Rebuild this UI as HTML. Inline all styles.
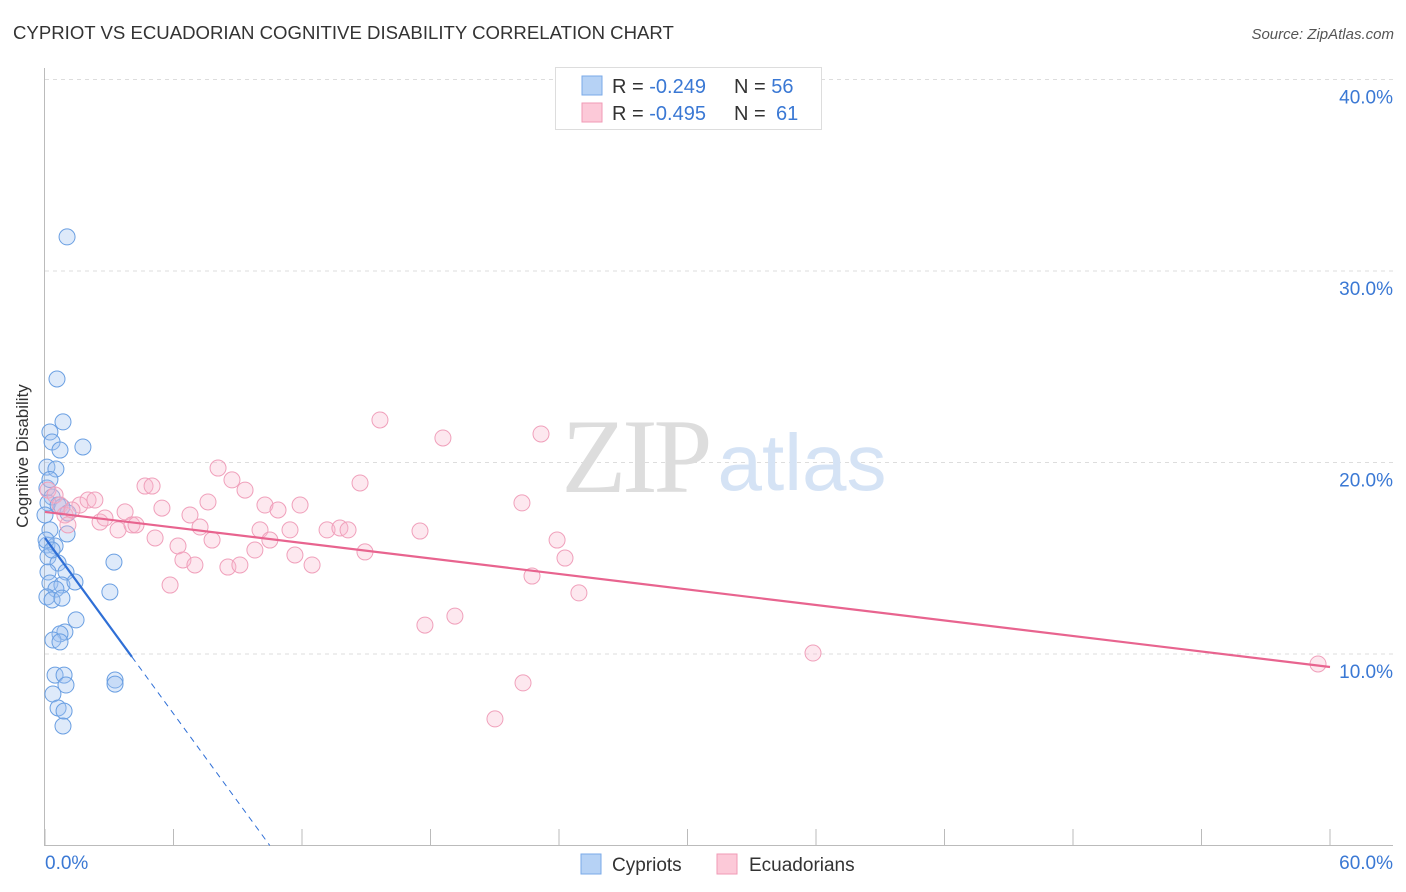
<!DOCTYPE html>
<html><head><meta charset="utf-8"><style>
body{margin:0;background:#fff;font-family:"Liberation Sans",sans-serif;}
svg{display:block}
</style></head><body>
<svg id="chart" width="1406" height="892" xmlns="http://www.w3.org/2000/svg">
<text x="13" y="39" font-size="18.6" fill="#333">CYPRIOT VS ECUADORIAN COGNITIVE DISABILITY CORRELATION CHART</text>
<text x="1394" y="39" font-size="15" fill="#555" text-anchor="end" font-style="italic">Source: ZipAtlas.com</text>
<g id="grid"></g>
<g>
<text x="635" y="492" font-size="106" fill="#ddd" text-anchor="middle" font-family="Liberation Serif,serif" letter-spacing="-4">ZIP</text>
<text x="802" y="490" font-size="80" fill="#d5e3f5" text-anchor="middle">atlas</text>
</g>
<g id="axes"></g>
<g id="pts"></g>
<g id="trends"></g>
<text x="28" y="456" font-size="17" fill="#333" text-anchor="middle" transform="rotate(-90 28 456)">Cognitive Disability</text>
<g>
<rect x="555.5" y="67.5" width="266" height="62" fill="#fff" stroke="#ddd"/>
<rect x="582" y="76" width="20" height="19" fill="#b6d2f5" stroke="#7aaae8"/>
<rect x="582" y="103" width="20" height="19" fill="#fcc9d8" stroke="#f09ab6"/>
<text x="612" y="93" font-size="20" fill="#333">R = <tspan fill="#3a78d4">-0.249</tspan><tspan x="734">N = </tspan><tspan fill="#3a78d4">56</tspan></text>
<text x="612" y="120" font-size="20" fill="#333">R = <tspan fill="#3a78d4">-0.495</tspan><tspan x="734">N = </tspan><tspan fill="#3a78d4" x="776">61</tspan></text>
</g>
<g>
<rect x="581" y="854" width="20" height="20" fill="#b6d2f5" stroke="#7aaae8"/>
<text x="612" y="871" font-size="19" fill="#333">Cypriots</text>
<rect x="717" y="854" width="20" height="20" fill="#fcc9d8" stroke="#f09ab6"/>
<text x="749" y="871" font-size="19" fill="#333">Ecuadorians</text>
</g>
</svg>
<script>
const blueX=[1.03,0.56,0.84,0.23,1.77,0.33,0.70,0.09,0.51,0.09,0.33,0.14,0.61,0.79,1.07,0.0,1.03,0.23,0.09,0.47,0.14,3.22,0.61,0.14,0.98,0.23,0.79,1.40,0.51,0.09,0.33,0.79,3.03,1.45,0.93,0.70,0.37,0.70,0.47,0.89,0.98,3.27,3.27,0.37,0.61,0.89,0.84,0.05,0.23,0.33];
const blueY=[31.78,24.36,22.12,21.59,20.81,21.07,20.65,19.76,19.66,18.67,18.20,17.89,17.78,17.68,17.36,17.26,16.27,16.48,15.69,15.64,15.07,14.80,14.75,14.28,14.28,13.71,13.60,13.76,13.39,12.98,12.82,12.92,13.24,11.78,11.15,11.05,10.73,10.63,8.90,8.90,8.38,8.64,8.43,7.91,7.18,7.02,6.24,15.95,19.11,15.43];
const pinkX=[0.14,0.47,0.70,0.93,1.07,1.63,2.01,2.33,2.57,2.80,3.41,3.74,4.06,4.25,4.67,5.00,5.14,5.46,5.84,6.21,6.44,6.77,7.00,7.24,7.61,7.80,8.08,8.54,8.73,9.10,9.34,9.80,10.04,10.27,10.50,10.88,11.44,11.67,11.91,12.47,13.17,13.77,14.15,14.71,14.94,15.64,17.51,17.74,18.58,19.14,21.01,22.27,22.32,22.74,23.16,23.91,24.28,24.93,35.86,59.44,1.26];
const pinkY=[18.56,18.30,17.78,17.26,16.74,17.78,18.04,18.04,16.89,17.10,16.48,17.42,16.74,16.74,18.77,18.77,16.06,17.62,13.60,15.64,14.91,17.26,14.65,16.63,17.94,15.95,19.71,14.54,19.09,14.65,18.56,15.43,16.48,17.78,15.95,17.52,16.48,15.17,17.78,14.65,16.48,16.58,16.48,18.93,15.33,22.22,16.42,11.51,21.28,11.98,6.61,17.89,8.49,14.07,21.49,15.95,15.01,13.19,10.05,9.48,17.52];
const yTicks=[10,20,30,40];
const yTickLabels=["10.0%","20.0%","30.0%","40.0%"];
const xTicks=[0,6,12,18,24,30,36,42,48,54,60];
const pinkTrend=[17.42,9.32];
const blueTrend=[16.06,-1.53];
const NS="http://www.w3.org/2000/svg";
const sx=v=>45+v/60*1285;
const sy=v=>845.5-v*19.15;
function mk(tag,attrs,parent){const e=document.createElementNS(NS,tag);for(const k in attrs)e.setAttribute(k,attrs[k]);document.getElementById(parent).appendChild(e);return e;}
yTicks.forEach((t,i)=>{
 const g=mk('line',{x1:45,x2:1393,y1:sy(t),y2:sy(t),stroke:'#ddd','stroke-dasharray':'4,4'},'grid');
 
 
 const l=mk('text',{x:1393,y:sy(t)+24,'font-size':19,fill:'#3a78d4','text-anchor':'end'},'axes');
 l.textContent=yTickLabels[i];
 
 
});
let a=mk('line',{x1:44.5,x2:44.5,y1:68,y2:845,stroke:'#bbb'},'axes');


a=mk('line',{x1:44,x2:1393,y1:845.5,y2:845.5,stroke:'#bbb'},'axes');


xTicks.forEach(t=>{const e=mk('line',{x1:sx(t),x2:sx(t),y1:829,y2:845,stroke:'#bbb'},'axes');
 
 });
let t0=mk('text',{x:45,y:869,'font-size':19,fill:'#3a78d4'},'axes');t0.textContent='0.0%';


let t1=mk('text',{x:1393,y:869,'font-size':19,fill:'#3a78d4','text-anchor':'end'},'axes');t1.textContent='60.0%';


blueX.forEach((x,i)=>{const c=mk('circle',{cx:sx(x),cy:sy(blueY[i]),r:8,fill:'rgba(160,196,240,0.35)',stroke:'#6a9fe2','stroke-width':1},'pts');
 
 });
pinkX.forEach((x,i)=>{const c=mk('circle',{cx:sx(x),cy:sy(pinkY[i]),r:8,fill:'rgba(250,185,205,0.32)',stroke:'#f0a0bb','stroke-width':1},'pts');
 
 });
let p=mk('line',{x1:sx(0),y1:sy(pinkTrend[0]),x2:sx(60),y2:sy(pinkTrend[1]),stroke:'#e8648f','stroke-width':2.2},'trends');


const bxEnd=4.06;
let b=mk('line',{x1:sx(0),y1:sy(blueTrend[0]),x2:sx(bxEnd),y2:sy(blueTrend[0]+blueTrend[1]*bxEnd),stroke:'#2f6fd6','stroke-width':2.2},'trends');


const bx2=-blueTrend[0]/blueTrend[1];
let bd=mk('line',{x1:sx(bxEnd),y1:sy(blueTrend[0]+blueTrend[1]*bxEnd),x2:sx(bx2),y2:sy(0),stroke:'#2f6fd6','stroke-width':1,'stroke-dasharray':'6,5'},'trends');


</script>
</body></html>
